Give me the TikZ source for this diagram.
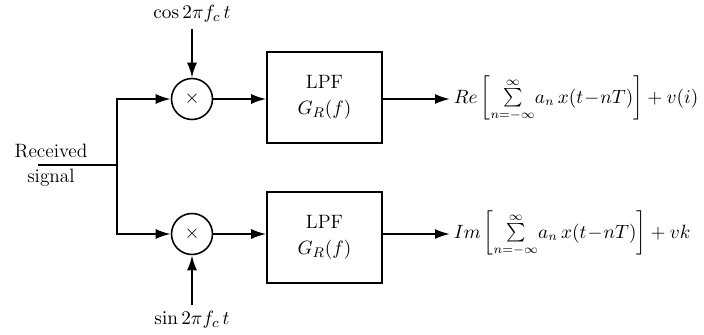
\documentclass[tikz,border=0pt]{standalone}
\usepackage{amsmath,amssymb}
\usepackage{tikz}
\usetikzlibrary{arrows.meta, positioning}

\begin{document}
\begin{tikzpicture}[
  x=0.02cm, y=-0.02cm,
  every node/.style={font=\fontsize{11}{13}\selectfont},
  mixer/.style={circle, draw, line width=0.9pt, minimum size=0.82cm, inner sep=0pt},
  block/.style={rectangle, draw, line width=0.9pt, minimum width=2.3cm,
                minimum height=1.82cm, align=center},
  outtext/.style={anchor=base west, inner sep=2pt, font=\fontsize{10.5}{12}\selectfont},
  wire/.style={line width=1.1pt},
  arrow/.style={-{Latex[length=3mm, width=2mm]}, line width=1.1pt},
]
\useasboundingbox (0,0) rectangle (704,335);
% input and split
\node[align=center] (rx) at (51,165) {Received\\[1pt]signal};
\coordinate (in) at (38,165);
\coordinate (split) at (117,165);
% mixers
\node[mixer] (mix1) at (192,99)  {$\times$};
\node[mixer] (mix2) at (192,234) {$\times$};
\node (cos) at (192,14)  {$\cos 2\pi f_c\, t$};
\node (sin) at (192,320) {$\sin 2\pi f_c\, t$};
% low pass filters
\node[block] (lpf1) at (324.5,97.5)  {LPF\\[2pt]$G_R(f)$};
\node[block] (lpf2) at (324.5,237.5) {LPF\\[2pt]$G_R(f)$};
% outputs
\node[outtext] (out1) at (450,103)
      {$Re\left[\sum\limits_{n=-\infty}^{\infty}\!a_n\,x(t\!-\!nT)\right]+v(i)$};
\node[outtext] (out2) at (450,238)
      {$Im\left[\sum\limits_{n=-\infty}^{\infty}\!a_n\,x(t\!-\!nT)\right]+vk$};
\draw[wire]  (in) -- (split);
\draw[arrow] (split) |- (mix1);
\draw[arrow] (split) |- (mix2);
\draw[arrow] (cos.south) -- (mix1.north);
\draw[arrow] (sin.north) -- (mix2.south);
\draw[arrow] (mix1) -- (mix1 -| lpf1.west);
\draw[arrow] (mix2) -- (mix2 -| lpf2.west);
\draw[arrow] (mix1 -| lpf1.east) -- (mix1 -| out1.west);
\draw[arrow] (mix2 -| lpf2.east) -- (mix2 -| out2.west);
\end{tikzpicture}
\end{document}
